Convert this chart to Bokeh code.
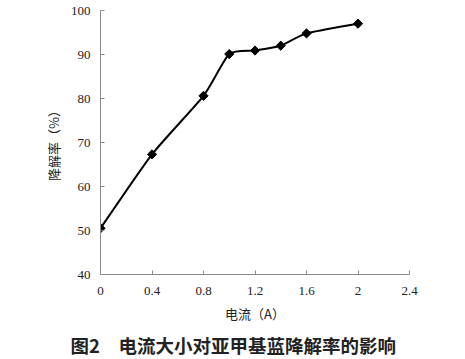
import math
from bokeh.plotting import figure
from bokeh.models import Title, FixedTicker
from bokeh.embed import file_html
from bokeh.resources import INLINE

current = [0, 0.4, 0.8, 1.0, 1.2, 1.4, 1.6, 2.0]
rate = [50.5, 67.3, 80.6, 90.1, 90.9, 92.0, 94.8, 97.0]
x_ticks = [0, 0.4, 0.8, 1.2, 1.6, 2.0, 2.4]
x_tick_labels = ["0", "0.4", "0.8", "1.2", "1.6", "2", "2.4"]
y_ticks = [40, 50, 60, 70, 80, 90, 100]
x_title = "电流（A）"
y_title = "降解率（%）"
caption = "图2\u3000电流大小对亚甲基蓝降解率的影响"

p = figure(frame_width=309, frame_height=264, x_range=(0, 2.4), y_range=(40, 100),
           output_backend="svg", toolbar_location=None,
           min_border_left=100, min_border_top=10, min_border_right=40, min_border_bottom=5)
p.outline_line_color = None
p.xgrid.visible = False
p.ygrid.visible = False
p.background_fill_color = "white"
p.border_fill_color = "white"

# gently smoothed line (Catmull-Rom style Bezier built from the data)
k = 0.1
n = len(current)
x0s, y0s, x1s, y1s, cx0, cy0, cx1, cy1 = [], [], [], [], [], [], [], []
for i in range(n - 1):
    pa = (current[i - 1], rate[i - 1]) if i > 0 else (current[i], rate[i])
    pb = (current[i], rate[i])
    pc = (current[i + 1], rate[i + 1])
    pd = (current[i + 2], rate[i + 2]) if i + 2 < n else pc
    x0s.append(pb[0]); y0s.append(pb[1]); x1s.append(pc[0]); y1s.append(pc[1])
    cx0.append(pb[0] + (pc[0] - pa[0]) * k); cy0.append(pb[1] + (pc[1] - pa[1]) * k)
    cx1.append(pc[0] - (pd[0] - pb[0]) * k); cy1.append(pc[1] - (pd[1] - pb[1]) * k)
p.bezier(x0=x0s, y0=y0s, x1=x1s, y1=y1s, cx0=cx0, cy0=cy0, cx1=cx1, cy1=cy1,
         line_color="black", line_width=2)
p.scatter(current, rate, marker="square", size=6.5, angle=math.pi / 4, color="black")

for ax in (p.xaxis[0], p.yaxis[0]):
    ax.axis_line_color = "#8a8a8a"
    ax.major_tick_line_color = "#8a8a8a"
    ax.major_tick_in = 4
    ax.major_tick_out = 0
    ax.minor_tick_line_color = None
    ax.major_label_text_font = "Liberation Serif"
    ax.major_label_text_font_size = "13px"
    ax.major_label_text_color = "#222222"
    ax.axis_label_text_font = "Noto Sans CJK SC"
    ax.axis_label_text_font_size = "13px"
    ax.axis_label_text_font_style = "normal"
    ax.axis_label_text_color = "#222222"

p.xaxis.ticker = FixedTicker(ticks=x_ticks)
p.xaxis.major_label_overrides = {t: l for t, l in zip(x_ticks, x_tick_labels)}
p.xaxis.major_label_standoff = 12
p.xaxis.axis_label = x_title
p.xaxis.axis_label_standoff = 6
p.yaxis.ticker = FixedTicker(ticks=y_ticks)
p.yaxis.major_label_standoff = 10
p.yaxis.axis_label = y_title
p.yaxis.axis_label_standoff = 5

p.add_layout(Title(text=caption, align="left", text_font="Noto Sans CJK SC",
                   text_font_size="18.5px", text_font_style="bold", text_color="#222222",
                   standoff=9, offset=-30), "below")

open("out.html", "w").write(file_html(p, INLINE))
